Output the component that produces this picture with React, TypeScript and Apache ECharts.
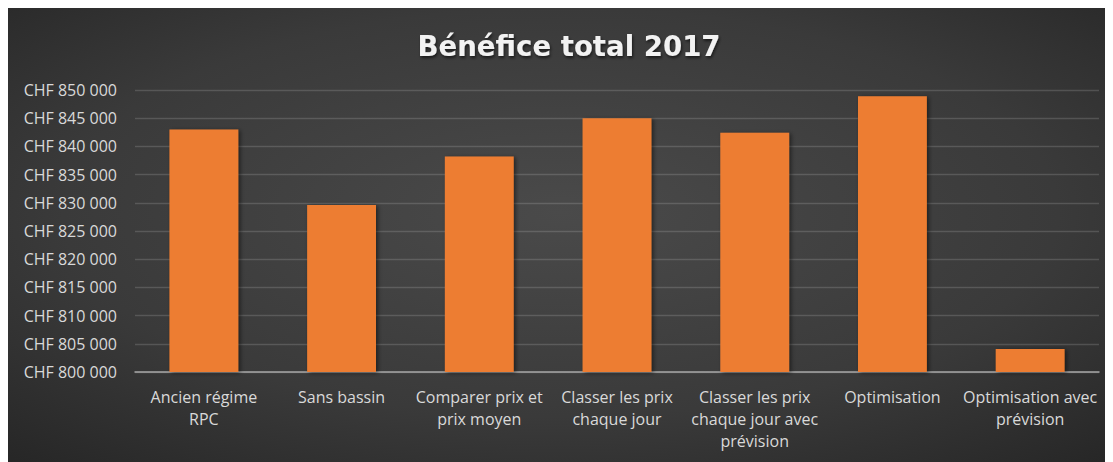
import React, { useEffect, useRef } from "react";
import * as echarts from "echarts";

const categories = [
  "Ancien régime\nRPC",
  "Sans bassin",
  "Comparer prix et\nprix moyen",
  "Classer les prix\nchaque jour",
  "Classer les prix\nchaque jour avec\nprévision",
  "Optimisation",
  "Optimisation avec\nprévision",
];
const profits = [843000, 829600, 838200, 845000, 842400, 848900, 804100];
const yMin = 800000;
const yMax = 850000;
const yStep = 5000;
const titleText = "Bénéfice total 2017";

const fmtCHF = (v: number) => {
  const s = String(Math.round(v));
  return "CHF " + s.replace(/\B(?=(\d{3})+(?!\d))/g, " ");
};

export default function App() {
  const ref = useRef<HTMLDivElement>(null);
  useEffect(() => {
    if (!ref.current) return;
    const chart = echarts.init(ref.current, null, { renderer: "svg" });
    chart.setOption({
      animation: false,
      backgroundColor: new echarts.graphic.RadialGradient(0.5, 0.45, 0.75, [
        { offset: 0, color: "#4a4a4a" },
        { offset: 0.6, color: "#3a3a3a" },
        { offset: 1, color: "#262626" },
      ]),
      title: {
        text: titleText,
        left: 556,
        top: 19,
        textAlign: "center",
        textStyle: {
          fontFamily: "DejaVu Sans",
          fontWeight: "bold",
          fontSize: 27.6,
          color: "#f2f2f2",
          textShadowColor: "rgba(0,0,0,0.6)",
          textShadowBlur: 3,
          textShadowOffsetX: 1,
          textShadowOffsetY: 2,
        },
      },
      grid: { left: 127, right: 14, top: 82, bottom: 90, containLabel: false },
      xAxis: {
        type: "category",
        data: categories,
        axisTick: { show: false },
        axisLine: { lineStyle: { color: "#a6a6a6", width: 1.5 } },
        axisLabel: {
          interval: 0,
          margin: 14,
          color: "#d9d9d9",
          fontFamily: "Open Sans",
          fontSize: 16,
          lineHeight: 22,
        },
      },
      yAxis: {
        type: "value",
        min: yMin,
        max: yMax,
        interval: yStep,
        axisLine: { show: false },
        axisTick: { show: false },
        splitLine: { lineStyle: { color: "rgba(255,255,255,0.15)", width: 1.3 } },
        axisLabel: {
          margin: 18,
          color: "#d9d9d9",
          fontFamily: "Open Sans",
          fontSize: 16,
          formatter: (v: number) => fmtCHF(v),
        },
      },
      series: [
        {
          type: "bar",
          data: profits,
          barWidth: "50%",
          itemStyle: {
            color: "#ED7D31",
            shadowColor: "rgba(0,0,0,0.5)",
            shadowBlur: 4,
            shadowOffsetX: 2,
            shadowOffsetY: 1,
          },
        },
      ],
    });
    return () => chart.dispose();
  }, []);
  return <div ref={ref} style={{ width: 1105, height: 454 }} />;
}
